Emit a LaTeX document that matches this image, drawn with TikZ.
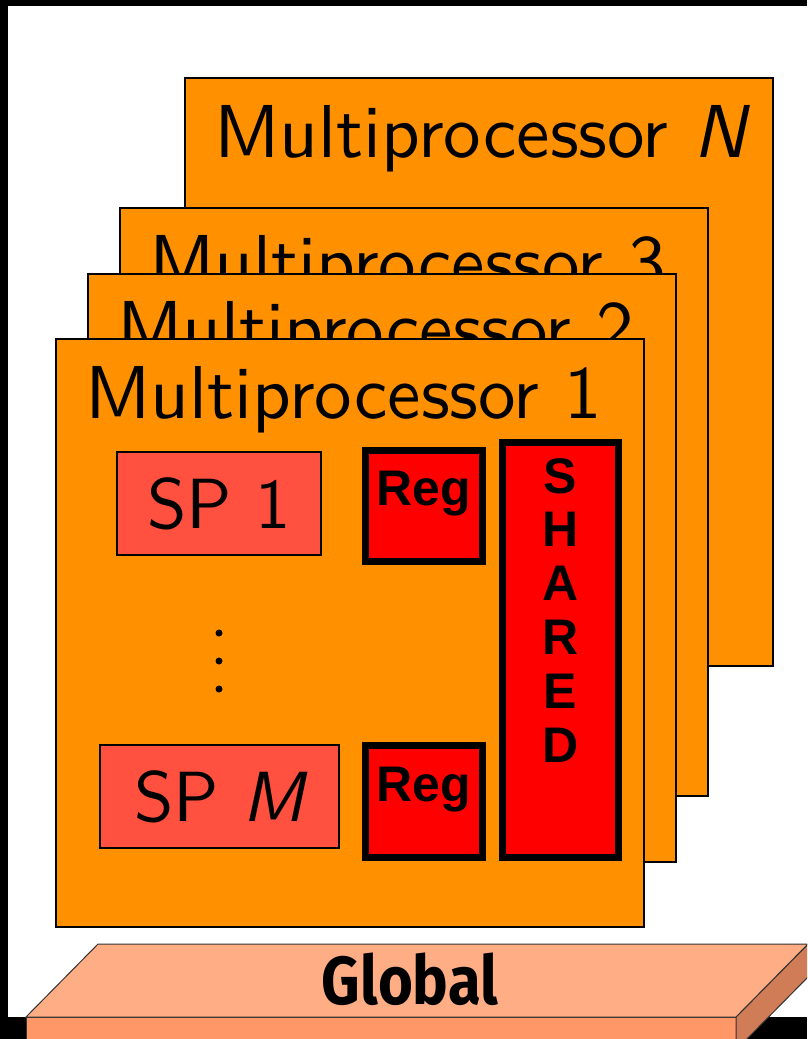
\documentclass[tikz,border=0pt]{standalone}
\usepackage{fontspec}
\newfontfamily\mpfont{lmsans10-regular}[Extension=.otf, ItalicFont=lmsans10-oblique]
\newfontfamily\regfont{Liberation Sans}
\newfontfamily\globalfont[FakeStretch=0.88]{Fira Sans}
\usepackage{tikz}
\usetikzlibrary{positioning}

\definecolor{mporange}{RGB}{255,145,0}
\definecolor{spred}{RGB}{255,80,64}
\definecolor{slabtop}{RGB}{255,173,133}
\definecolor{slabfront}{RGB}{255,152,102}
\definecolor{slabside}{RGB}{208,124,86}

\begin{document}
\begin{tikzpicture}[x=1pt, y=-1pt,
        mpbox/.style={draw, line width=1.5pt, fill=mporange, inner sep=0pt, outer sep=0pt,
            minimum width=588pt, minimum height=588pt, anchor=north west},
        mplabel/.style={font=\fontsize{75}{80}\selectfont\mpfont, inner sep=0pt, anchor=base west},
        spbox/.style={draw, line width=1.5pt, fill=spred, inner sep=0pt, minimum height=103pt,
            font=\fontsize{71}{80}\selectfont\mpfont},
        regbox/.style={draw, line width=7pt, fill=red, inner sep=0pt, outer sep=0pt, anchor=north west},
        regtext/.style={font=\fontsize{50}{54}\selectfont\regfont\bfseries, inner sep=0pt, anchor=base}]
        \useasboundingbox (0,0) rectangle (807,1039);
        \clip (0,0) rectangle (807,1039);

        % Draw the frame
        \fill[black] (0,0) rectangle (807,1039);
        \fill[white] (8,6) rectangle (810,1017);

        % Draw the stack of multiprocessors, back to front
        \node[mpbox] (mpN) at (185,78) {};
        \node[mplabel] (labN) at ([shift={(29pt,-79pt)}]mpN.north west) {Multiprocessor {\itshape N}};
        \node[mpbox] (mp3) at (120,208) {};
        \node[mplabel] (lab3) at ([shift={(29pt,-79pt)}]mp3.north west) {Multiprocessor 3};
        \node[mpbox] (mp2) at (88,274) {};
        \node[mplabel] (lab2) at ([shift={(29pt,-79pt)}]mp2.north west) {Multiprocessor 2};
        \node[mpbox] (mp1) at (56,339) {};
        \node[mplabel] (lab1) at ([shift={(29pt,-79pt)}]mp1.north west) {Multiprocessor 1};

        % Draw the scalar processors
        \node[spbox, minimum width=204pt] (sp1) at (219,503.5) {SP 1};
        \node[spbox, minimum width=239pt] (spM) at (219.5,796.5) {SP {\itshape M}};
        \foreach \y in {633,661,689}
            \fill (219,\y) circle (3.5pt);

        % Draw the registers and the shared memory
        \node[regbox, minimum width=117pt, minimum height=111pt] (reg1) at (365.5,450.5) {};
        \node[regtext] (regtxt1) at ([yshift=-54.5pt]reg1.north) {Reg};
        \node[regbox, minimum width=117pt, minimum height=112pt] (reg2) at (365.5,745.5) {};
        \node[regtext] (regtxt2) at ([yshift=-55.5pt]reg2.north) {Reg};
        \node[regbox, minimum width=116pt, minimum height=415pt] (shared) at (502.5,442.5) {};
        \foreach \ch [count=\i from 0] in {S,H,A,R,E,D}
            \node[regtext] (sh\i) at ([yshift=-50.5pt-53.8pt*\i]shared.north) {\ch};

        % Draw the global memory slab
        \draw[black!80, line width=1pt, fill=slabfront] (26,1017) rectangle (736,1050);
        \draw[black!80, line width=1pt, fill=slabside] (736,1017) -- (808,944) -- (808,977) -- (736,1050) -- cycle;
        \draw[black!80, line width=1pt, fill=slabtop] (26,1017) -- (98,944) -- (808,944) -- (736,1017) -- cycle;
        \node[font=\fontsize{68}{72}\selectfont\globalfont\bfseries] (global) at (410,979) {Global};
    \end{tikzpicture}
\end{document}
